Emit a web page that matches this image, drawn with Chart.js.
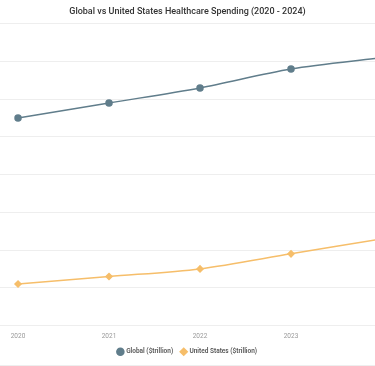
<!DOCTYPE html>
<html>
<head>
<meta charset="utf-8">
<script src="https://cdn.jsdelivr.net/npm/chart.js@4"></script>
<style>
  html, body { margin: 0; padding: 0; background: #fff; }
  #wrap { width: 375px; height: 365px; border-bottom: 1px solid #eeeeee; position: relative; }
</style>
</head>
<body>
<div id="wrap"><canvas id="spendChart"></canvas></div>
<script>
/*******  Data ******/
var years = [2020, 2021, 2022, 2023, 2024];
var globalSpend = [8.5, 8.9, 9.3, 9.8, 10.1];
var usSpend = [4.1, 4.3, 4.5, 4.9, 5.3];

function toPoints(vals) {
  return vals.map(function (v, i) { return { x: years[i], y: v }; });
}

var xMin = 2019.802, xMax = 2023.923;

var ctx = document.getElementById("spendChart");
var spendChart = new Chart(ctx, {
  type: 'line',
  data: {
    datasets: [
      {
        label: "Global ($trillion)",
        data: toPoints(globalSpend),
        borderColor: "#607D8B",
        backgroundColor: "#607D8B",
        borderWidth: 1.5,
        pointStyle: 'circle',
        pointRadius: 3,
        tension: 0.3
      },
      {
        label: "United States ($trillion)",
        data: toPoints(usSpend),
        borderColor: "#F6BE6A",
        backgroundColor: "#F6BE6A",
        borderWidth: 1.5,
        pointStyle: 'rectRot',
        pointRadius: 3,
        tension: 0.3
      }
    ]
  },
  options: {
    responsive: true,
    maintainAspectRatio: false,
    animation: false,
    layout: { padding: 0, autoPadding: false },
    plugins: {
      title: {
        display: true,
        text: "Global vs United States Healthcare Spending (2020 - 2024)",
        color: "#333",
        font: { family: "Roboto", size: 9, weight: '500' },
        padding: { top: 6, bottom: 7 }
      },
      legend: {
        position: 'bottom',
        labels: {
          usePointStyle: true,
          boxWidth: 5,
          boxHeight: 5,
          padding: 8,
          color: "#555",
          font: { family: "Roboto", size: 6.5, weight: '600' }
        }
      },
      tooltip: { enabled: false }
    },
    scales: {
      x: {
        type: 'linear',
        min: xMin,
        max: xMax,
        afterBuildTicks: function (s) {
          s.ticks = years.filter(function (v) { return v <= xMax; })
            .map(function (v) { return { value: v }; });
        },
        afterFit: function (s) { s.height = 15; },
        grid: { display: false, drawTicks: false },
        border: { display: false },
        ticks: {
          padding: 7,
          color: "#999",
          font: { family: "Roboto", size: 6.5 },
          maxRotation: 0,
          callback: function (v) { return String(v); }
        }
      },
      y: {
        min: 3,
        max: 11,
        ticks: { display: false, stepSize: 1 },
        grid: { color: "#eeeeee", drawTicks: false },
        border: { display: false }
      }
    }
  }
});
</script>
</body>
</html>
